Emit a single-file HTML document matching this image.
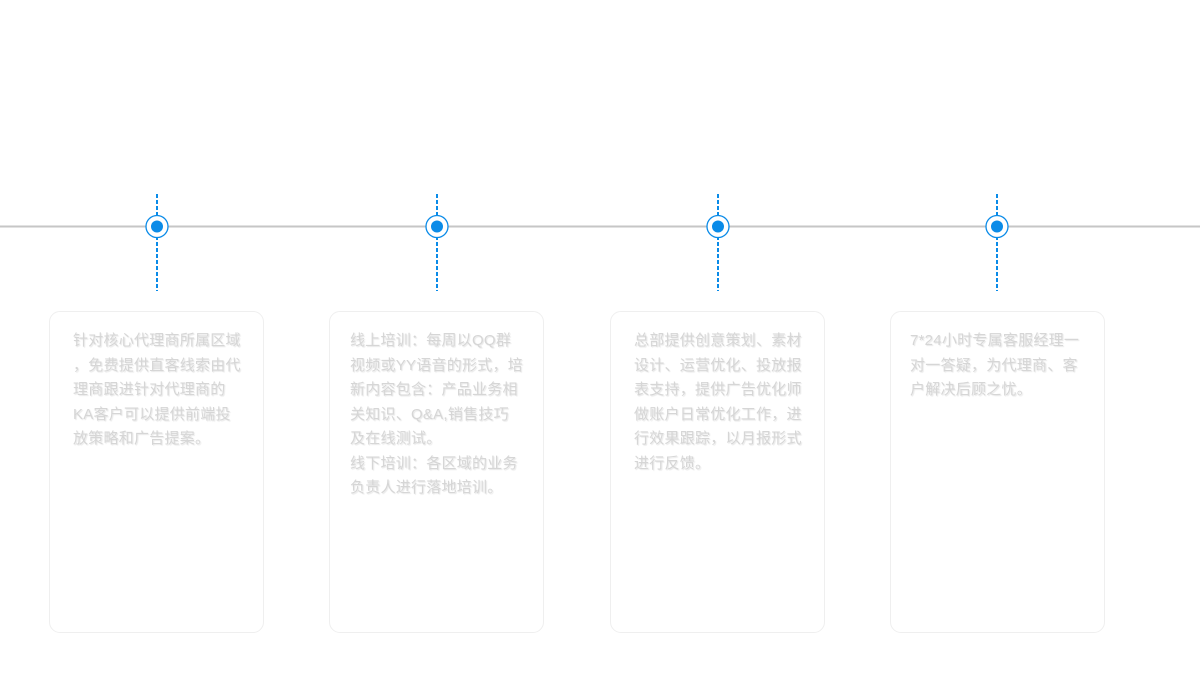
<!DOCTYPE html>
<html><head><meta charset="utf-8">
<style>
html,body{margin:0;padding:0;background:#fff;}
body{width:1203px;height:684px;position:relative;overflow:hidden;font-family:"Liberation Sans","Noto Sans CJK SC",sans-serif;}
.card{position:absolute;top:311px;width:213px;height:320px;border:1px solid #efefef;border-radius:11px;box-sizing:content-box;}
.txt{position:absolute;top:329px;font-size:15px;line-height:24.5px;letter-spacing:0.25px;color:#d6d6d6;text-shadow:1px 1px 1px rgba(0,0,0,0.10);white-space:nowrap;}
svg{position:absolute;left:0;top:0;}
</style></head><body>
<svg width="1203" height="684">
<line x1="0" y1="226.5" x2="1200" y2="226.5" stroke="#c6c6c6" stroke-width="2"/>
<g stroke="#0a8be8" stroke-width="2" stroke-dasharray="4 2">
<line x1="157" y1="194" x2="157" y2="291"/>
<line x1="437" y1="194" x2="437" y2="291"/>
<line x1="718" y1="194" x2="718" y2="291"/>
<line x1="997" y1="194" x2="997" y2="291"/>
</g>
<g fill="#fff" stroke="#0a8be8" stroke-width="1.3">
<circle cx="157" cy="226.5" r="11"/>
<circle cx="437" cy="226.5" r="11"/>
<circle cx="718" cy="226.5" r="11"/>
<circle cx="997" cy="226.5" r="11"/>
</g>
<g fill="#0a8be8">
<circle cx="157" cy="226.5" r="6"/>
<circle cx="437" cy="226.5" r="6"/>
<circle cx="718" cy="226.5" r="6"/>
<circle cx="997" cy="226.5" r="6"/>
</g>
</svg>
<div class="card" style="left:49px"></div>
<div class="card" style="left:329px"></div>
<div class="card" style="left:610px"></div>
<div class="card" style="left:890px"></div>
<div class="txt" style="left:73px">针对核心代理商所属区域<br>，免费提供直客线索由代<br>理商跟进针对代理商的<br>KA客户可以提供前端投<br>放策略和广告提案。</div>
<div class="txt" style="left:350px">线上培训：每周以QQ群<br>视频或YY语音的形式，培<br>新内容包含：产品业务相<br>关知识、Q&amp;A,销售技巧<br>及在线测试。<br>线下培训：各区域的业务<br>负责人进行落地培训。</div>
<div class="txt" style="left:634px">总部提供创意策划、素材<br>设计、运营优化、投放报<br>表支持，提供广告优化师<br>做账户日常优化工作，进<br>行效果跟踪，以月报形式<br>进行反馈。</div>
<div class="txt" style="left:910px">7*24小时专属客服经理一<br>对一答疑，为代理商、客<br>户解决后顾之忧。</div>
</body></html>
